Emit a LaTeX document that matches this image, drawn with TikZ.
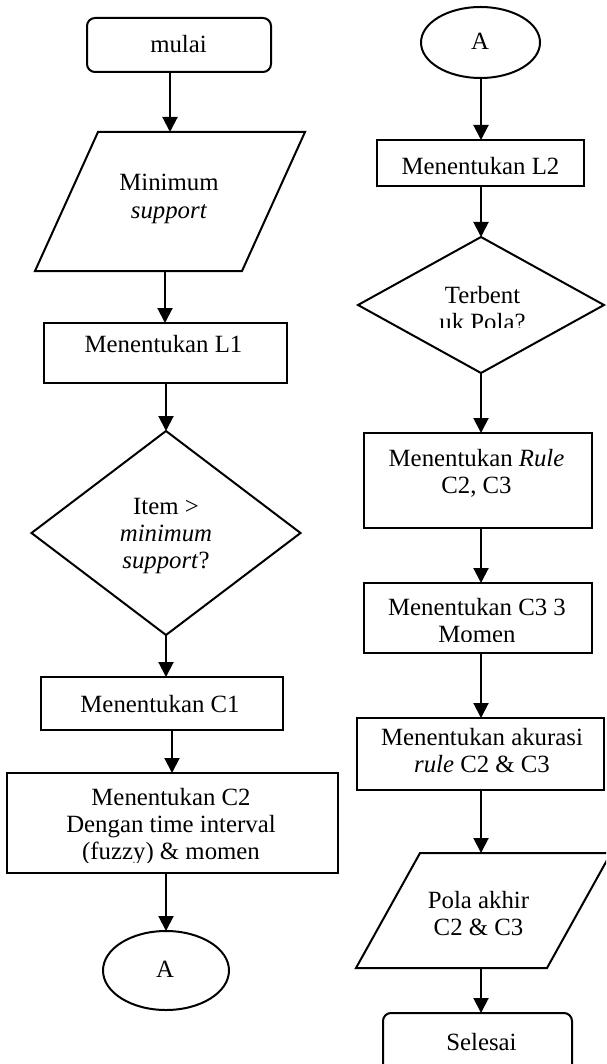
\documentclass[tikz,border=0pt]{standalone}
\usepackage{fontspec}
\setmainfont{Liberation Serif}
\usetikzlibrary{arrows.meta,shapes.geometric}
\newcommand\tb[1]{\begin{tabular}[t]{@{}c@{}}#1\end{tabular}}
\begin{document}
\begin{tikzpicture}[x=0.5pt,y=-0.5pt,
  line width=1pt,
  shp/.style={draw, line width=1pt, inner sep=0pt, outer sep=0pt},
  box/.style={shp, rectangle},
  term/.style={shp, rectangle, rounded corners=4pt},
  dec/.style={shp, diamond},
  oval/.style={shp, ellipse},
  io/.style={rectangle, inner sep=0pt, outer sep=0pt},
  txt/.style={anchor=base, inner sep=0pt, font=\fontsize{12.4}{13.6}\selectfont},
  arr/.style={-{Triangle[length=7.5pt,width=7.5pt]}, line width=1pt}]
\useasboundingbox (0,0) rectangle (606,1064);
\clip (0,0) rectangle (606,1064);

% ---------- left column ----------
\node[term, minimum width=92pt, minimum height=27pt] (mulai) at (179,45) {};
\node[txt] (mulaiT) at (178.5,53) {mulai};

\node[io, minimum width=135pt, minimum height=69.5pt] (in1) at (170,201.5) {};
\draw ([xshift=31.5pt]in1.north west) -- (in1.north east) -- ([xshift=-31.5pt]in1.south east) -- (in1.south west) -- cycle;
\node[txt] (in1T) at (169,191) {\tb{Minimum\\\textit{support}}};

\node[box, minimum width=121.5pt, minimum height=30pt] (L1) at (165,353) {};
\node[txt] (L1T) at (163.5,352) {Menentukan L1};

\node[dec, minimum width=134.5pt, minimum height=102pt] (d1) at (166,533) {};
\node[txt] (d1T) at (166,514) {\tb{Item >\\\textit{minimum}\\\textit{support}?}};

\node[box, minimum width=121pt, minimum height=26.5pt] (C1) at (162,703.5) {};
\node[txt] (C1T) at (160,712) {Menentukan C1};

\node[box, minimum width=165.5pt, minimum height=50pt] (C2) at (172,823) {};
\begin{scope}
\clip (0,773) rectangle (606,862);
\node[txt] (C2T) at (171,805) {\tb{Menentukan C2\\Dengan time interval\\(fuzzy) \& momen}};
\end{scope}

\node[oval, minimum width=63pt, minimum height=39.5pt] (A1) at (166,970.5) {};
\node[txt] (A1T) at (165,977) {A};

% ---------- right column ----------
\node[oval, minimum width=59.5pt, minimum height=35.5pt] (A2) at (480.5,42.5) {};
\node[txt] (A2T) at (480,50) {A};

\node[box, minimum width=103.5pt, minimum height=23pt] (L2) at (480.5,163) {};
\node[txt] (L2T) at (480.5,175) {Menentukan L2};

\node[dec, minimum width=123pt, minimum height=68pt] (d2) at (481,305) {};
\begin{scope}
\clip (0,237) rectangle (606,327);
\node[txt] (d2T) at (482.5,303) {\tb{Terbent\\uk Pola?}};
\end{scope}

\node[box, minimum width=114pt, minimum height=47.5pt] (rule) at (478,480.5) {};
\node[txt] (ruleT) at (476.5,466) {\tb{Menentukan \textit{Rule}\\C2, C3}};

\node[box, minimum width=114pt, minimum height=35pt] (C3) at (478,618) {};
\begin{scope}
\clip (0,583) rectangle (606,641);
\node[txt] (C3T) at (477,615) {\tb{Menentukan C3 3\\Momen}};
\end{scope}

\node[box, minimum width=123.5pt, minimum height=36pt] (ak) at (480.5,754) {};
\node[txt] (akT) at (482,745) {\tb{Menentukan akurasi\\\textit{rule} C2 \& C3}};

\node[io, minimum width=127.5pt, minimum height=57.5pt] (par2) at (483.5,910.5) {};
\draw ([xshift=32pt]par2.north west) -- (par2.north east) -- ([xshift=-32pt]par2.south east) -- (par2.south west) -- cycle;
\node[txt] (par2T) at (478.5,908) {\tb{Pola akhir\\C2 \& C3}};

\node[term, minimum width=94.5pt, minimum height=29.5pt] (sel) at (477.5,1042.5) {};
\node[txt] (selT) at (481.5,1050) {Selesai};

% ---------- connectors ----------
\draw[arr] (mulai.south -| in1) -- (in1.north);
\draw[arr] (in1.south -| L1) -- (L1.north);
\draw[arr] (L1.south -| d1) -- (d1.north);
\draw[arr] (d1.south) -- (d1.south |- C1.north);
\draw[arr] (C1.south -| C2) -- (C2.north);
\draw[arr] (C2.south -| A1) -- (A1.north);

\draw[arr] (A2.south -| d2) -- (d2 |- L2.north);
\draw[arr] (L2.south -| d2) -- (d2.north);
\draw[arr] (d2.south) -- (d2 |- rule.north);
\draw[arr] (rule.south -| d2) -- (d2 |- C3.north);
\draw[arr] (C3.south -| d2) -- (d2 |- ak.north);
\draw[arr] (ak.south -| d2) -- (d2 |- par2.north);
\draw[arr] (par2.south -| d2) -- (d2 |- sel.north);
\end{tikzpicture}
\end{document}
